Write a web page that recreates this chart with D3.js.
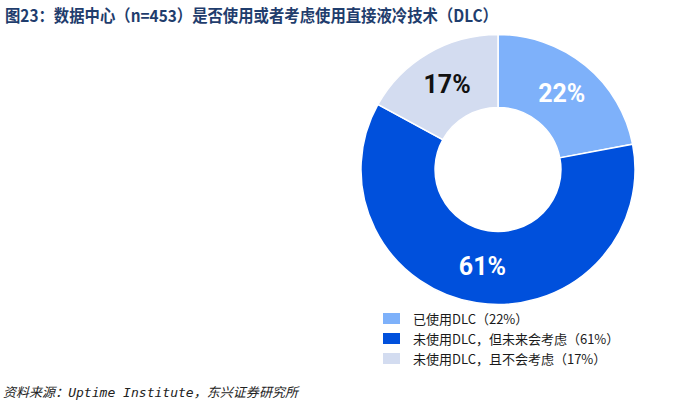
<!DOCTYPE html>
<html><head><meta charset="utf-8">
<script src="https://cdn.jsdelivr.net/npm/d3@7/dist/d3.min.js"></script>
<style>
html,body{margin:0;padding:0;background:#fff;}
svg{display:block;}
</style></head>
<body>
<svg id="chart" width="697" height="407"></svg>
<script>
const titleText = "图23：数据中心（n=453）是否使用或者考虑使用直接液冷技术（DLC）";
const sourceText = "资料来源：Uptime Institute，东兴证券研究所";
const categories = ["已使用DLC（22%）", "未使用DLC，但未来会考虑（61%）", "未使用DLC，且不会考虑（17%）"];
const values = [22, 61, 17];
const sliceLabels = ["22%", "61%", "17%"];
const colors = ["#7eb1fa", "#0050dc", "#d3dcf0"];
const labelColors = ["#ffffff", "#ffffff", "#111111"];

const svg = d3.select("#chart");
const W = 697, H = 407;

svg.append("text")
  .attr("x", 5).attr("y", 22)
  .attr("font-family", "'Noto Sans CJK SC', 'Noto Sans', sans-serif")
  .attr("font-weight", "bold")
  .attr("font-size", 16.5)
  .attr("textLength", 493)
  .attr("lengthAdjust", "spacingAndGlyphs")
  .attr("fill", "#1f3d6d")
  .text(titleText);

const cx = 498, cy = 169.5, rOuter = 135, rInner = 62;
const g = svg.append("g").attr("transform", `translate(${cx},${cy}) scale(1.015,1)`);

const pie = d3.pie().sort(null).value(d => d)(values);
const arc = d3.arc().innerRadius(rInner).outerRadius(rOuter);
const labelArc = d3.arc().innerRadius((rInner + rOuter) / 2).outerRadius((rInner + rOuter) / 2);

g.selectAll("path.slice").data(pie).join("path")
  .attr("class", "slice")
  .attr("d", arc)
  .attr("fill", (d, i) => colors[i])
  .attr("stroke", "#ffffff")
  .attr("stroke-width", 1.5);

g.selectAll("text.lbl").data(pie).join("text")
  .attr("class", "lbl")
  .attr("transform", d => { const c = labelArc.centroid(d); return `translate(${c[0]},${c[1]}) scale(${1/1.015},1)`; })
  .attr("text-anchor", "middle")
  .attr("dominant-baseline", "central")
  .attr("font-family", "Roboto, 'Noto Sans', sans-serif")
  .attr("font-weight", "bold")
  .attr("font-size", 25)
  .attr("fill", (d, i) => labelColors[i])
  .text((d, i) => sliceLabels[i]);

const legend = svg.append("g").attr("transform", "translate(383,313)");
const rows = legend.selectAll("g").data(categories).join("g")
  .attr("transform", (d, i) => `translate(0,${i * 20})`);
rows.append("rect").attr("width", 17).attr("height", 11).attr("fill", (d, i) => colors[i]);
rows.append("text")
  .attr("x", 30).attr("y", 5.5)
  .attr("dominant-baseline", "central")
  .attr("font-family", "'Noto Sans CJK SC', sans-serif")
  .attr("font-size", 13)
  .attr("fill", "#1a1a1a")
  .text(d => d);

svg.append("text")
  .attr("x", 3).attr("y", 397)
  .attr("font-family", "'DejaVu Sans Mono', 'Noto Sans CJK SC', monospace")
  .attr("font-style", "italic")
  .attr("font-size", 13)
  .attr("textLength", 295)
  .attr("lengthAdjust", "spacingAndGlyphs")
  .attr("fill", "#222")
  .text(sourceText);
</script>
</body></html>
